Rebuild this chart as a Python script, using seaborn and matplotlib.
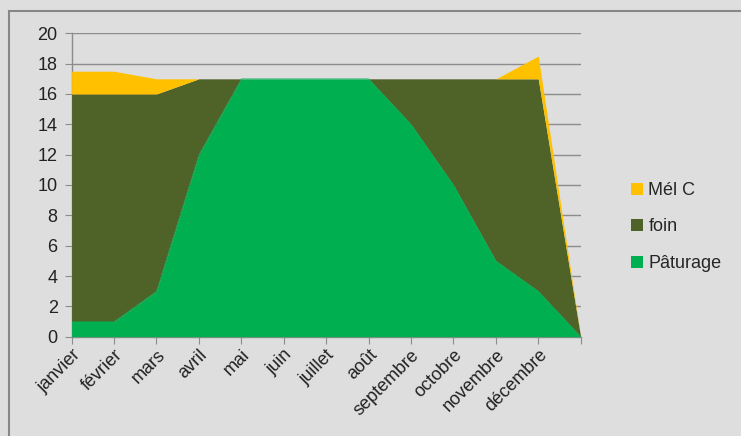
import numpy as np
import pandas as pd
import seaborn as sns
import matplotlib.pyplot as plt
from matplotlib.patches import Patch, Rectangle

# Data (13th point is the blank category after décembre)
mois = ["janvier", "février", "mars", "avril", "mai", "juin", "juillet",
        "août", "septembre", "octobre", "novembre", "décembre", ""]
paturage = [1, 1, 3, 12, 17, 17, 17, 17, 14, 10, 5, 3, 0]
foin = [15, 15, 13, 5, 0, 0, 0, 0, 3, 7, 12, 14, 0]
mel_c = [1.5, 1.5, 1, 0, 0, 0, 0, 0, 0, 0, 0, 1.5, 0]

couleurs = {"Pâturage": "#00B050", "foin": "#4F6228", "Mél C": "#FFC000"}
bg = "#DEDEDE"

sns.set_style("white")
plt.rcParams['font.family'] = ['Liberation Sans', 'DejaVu Sans']

df = pd.DataFrame({"x": np.arange(len(mois)), "Pâturage": paturage,
                   "foin": foin, "Mél C": mel_c})

fig = plt.figure(figsize=(7.41, 4.36), dpi=100, facecolor=bg)
ax = fig.add_axes([0.0966, 0.2278, 0.687, 0.6958])
ax.set_facecolor(bg)

# stacked areas
ax.stackplot(df["x"], df["Pâturage"], df["foin"], df["Mél C"],
             colors=[couleurs["Pâturage"], couleurs["foin"], couleurs["Mél C"]],
             linewidth=0, zorder=3)
# soft edge on the bottom layer
sns.lineplot(x=df["x"], y=df["Pâturage"], ax=ax, color=couleurs["Pâturage"],
             linewidth=0.4, zorder=4)

ax.set_xlim(0, len(mois) - 1)
ax.set_ylim(0, 20)
ax.set_yticks(range(0, 21, 2))
ax.set_xticks(df["x"])
ax.set_xticklabels(mois, rotation=45, ha="right", va="top",
                   rotation_mode="anchor", fontsize=13, color="#222222")
ax.tick_params(axis="y", labelsize=13, labelcolor="#222222", length=5,
               color="#8C8C8C", direction="out", left=True, pad=5)
ax.tick_params(axis="x", length=5, color="#8C8C8C", direction="out",
               bottom=True, pad=2)
ax.set_xlabel("")
ax.set_ylabel("")
ax.grid(axis="y", color="#8C8C8C", linewidth=1, zorder=1)
ax.set_axisbelow(True)
for s in ["top", "right"]:
    ax.spines[s].set_visible(False)
for s in ["left", "bottom"]:
    ax.spines[s].set_color("#8C8C8C")
    ax.spines[s].set_linewidth(1)

# legend
handles = [Patch(facecolor=couleurs[k], edgecolor="none", label=k)
           for k in ["Mél C", "foin", "Pâturage"]]
fig.legend(handles=handles, loc="upper left", bbox_to_anchor=(0.83, 0.62),
           frameon=False, fontsize=13, handlelength=0.65, handleheight=0.65,
           handletextpad=0.3, labelspacing=1.08)

# outer frame of the chart area
fig.patches.append(Rectangle((9 / 741, -0.1), 1.1, 1 - 11 / 436 + 0.1,
                             transform=fig.transFigure, fill=False,
                             edgecolor="#878787", linewidth=1.5))

fig.savefig("out.png", dpi=100, facecolor=bg)
